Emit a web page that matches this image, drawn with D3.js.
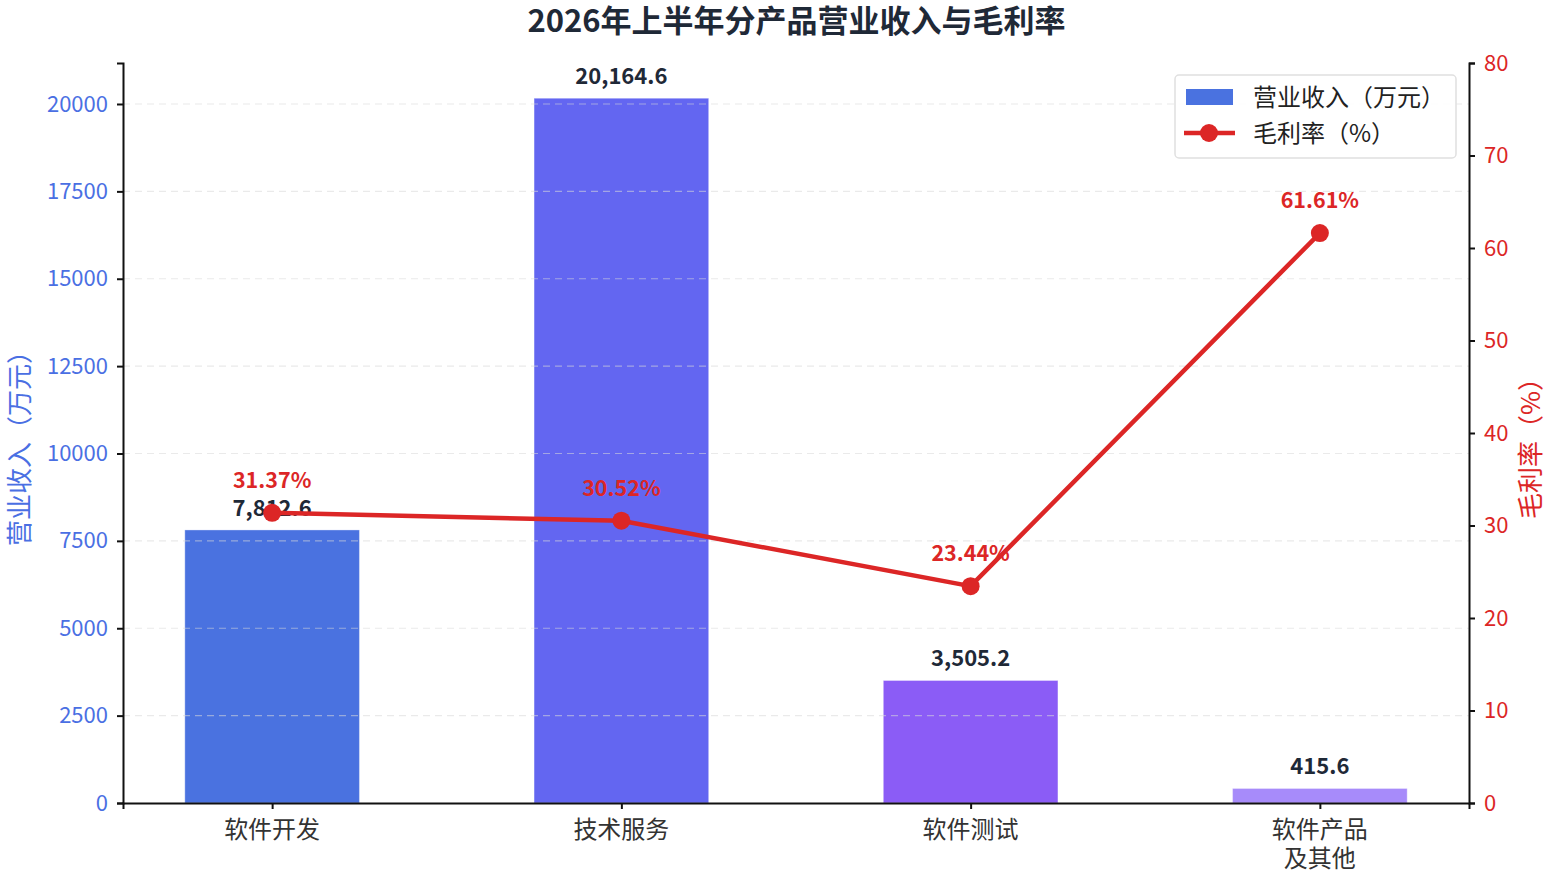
<!DOCTYPE html>
<html>
<head>
<meta charset="utf-8">
<script src="https://cdn.jsdelivr.net/npm/d3@7"></script>
<style>
  body { margin: 0; background: #fff; }
  text { font-family: "Noto Sans CJK SC", "Noto Sans", sans-serif; }
</style>
</head>
<body>
<script>
// data
const categories = ['软件开发', '技术服务', '软件测试', '软件产品\n及其他'];
const revenue = [7812.6, 20164.6, 3505.2, 415.6];       // 万元
const margin = [31.37, 30.52, 23.44, 61.61];             // %
const barColors = ['#4a72e0', '#6366f1', '#8b5cf6', '#a78bfa'];
const leftTicks = [0, 2500, 5000, 7500, 10000, 12500, 15000, 17500, 20000];
const rightTicks = [0, 10, 20, 30, 40, 50, 60, 70, 80];

const W = 1553, H = 875;
const m = {top: 63, right: 84, bottom: 72, left: 123};
const innerW = W - m.left - m.right;
const innerH = H - m.top - m.bottom;

const svg = d3.select('body').append('svg').attr('width', W).attr('height', H);

// scales
const x = d3.scaleLinear().domain([-0.427, categories.length - 1 + 0.427]).range([0, innerW]);
const yL = d3.scaleLinear().domain([0, d3.max(revenue) * 1.05]).range([innerH, 0]);
const yR = d3.scaleLinear().domain([0, 80]).range([innerH, 0]);
const barW = x(0.5) - x(0);

const g = svg.append('g').attr('transform', `translate(${m.left},${m.top})`);

// title
svg.append('text').text('2026年上半年分产品营业收入与毛利率')
  .attr('x', W / 2 + 20).attr('y', 32).attr('text-anchor', 'middle')
  .attr('font-size', 31).attr('font-weight', 'bold').attr('fill', '#1f2937');

// bars
g.selectAll('rect.bar').data(revenue).enter().append('rect')
  .attr('class', 'bar')
  .attr('x', (d, i) => x(i) - barW / 2)
  .attr('y', d => yL(d))
  .attr('width', barW)
  .attr('height', d => innerH - yL(d))
  .attr('fill', (d, i) => barColors[i])
  .attr('stroke', 'rgba(255,255,255,0.35)').attr('stroke-width', 1);

// grid on top of bars (dashed, light)
g.append('g').selectAll('line').data(leftTicks.slice(1)).enter().append('line')
  .attr('x1', 0).attr('x2', innerW)
  .attr('y1', d => yL(d)).attr('y2', d => yL(d))
  .attr('stroke', '#d8d8d8').attr('stroke-opacity', 0.55)
  .attr('stroke-dasharray', '7,5').attr('stroke-width', 1.2);

// bar value labels
g.selectAll('text.val').data(revenue).enter().append('text')
  .attr('x', (d, i) => x(i)).attr('y', d => yL(d) - 14)
  .attr('text-anchor', 'middle').attr('font-size', 22).attr('font-weight', 'bold')
  .attr('fill', '#1f2937')
  .text(d => d3.format(',.1f')(d));

// left axis
const axL = g.append('g').call(d3.axisLeft(yL).tickValues(leftTicks).tickFormat(d3.format('d')).tickSize(6).tickPadding(9));
axL.select('.domain').attr('stroke', '#111').attr('stroke-width', 2);
axL.selectAll('.tick line').attr('stroke', '#111').attr('stroke-width', 2);
axL.selectAll('.tick text').attr('fill', '#4a6fe3').attr('font-size', 22);

// right axis
const axR = g.append('g').attr('transform', `translate(${innerW},0)`)
  .call(d3.axisRight(yR).tickValues(rightTicks).tickSize(6).tickPadding(9));
axR.select('.domain').attr('stroke', '#111').attr('stroke-width', 2);
axR.selectAll('.tick line').attr('stroke', '#111').attr('stroke-width', 2);
axR.selectAll('.tick text').attr('fill', '#dc2626').attr('font-size', 22);

// bottom axis
const axB = g.append('g').attr('transform', `translate(0,${innerH})`)
  .call(d3.axisBottom(x).tickValues(d3.range(categories.length)).tickSize(6).tickFormat(''));
axB.select('.domain').attr('stroke', '#111').attr('stroke-width', 2);
axB.selectAll('.tick line').attr('stroke', '#111').attr('stroke-width', 2);
categories.forEach((c, i) => {
  const t = g.append('text').attr('x', x(i)).attr('y', innerH + 35)
    .attr('text-anchor', 'middle').attr('font-size', 24).attr('fill', '#333');
  c.split('\n').forEach((ln, k) => {
    t.append('tspan').attr('x', x(i)).attr('dy', k === 0 ? 0 : 29).text(ln);
  });
});

// axis titles
svg.append('text').text('营业收入（万元）')
  .attr('transform', `translate(29,${m.top + innerH / 2 + 9}) rotate(-90)`)
  .attr('text-anchor', 'middle').attr('font-size', 26).attr('fill', '#4a6fe3');
svg.append('text').text('毛利率（%）')
  .attr('transform', `translate(1540,${m.top + innerH / 2 + 9}) rotate(-90)`)
  .attr('text-anchor', 'middle').attr('font-size', 26).attr('fill', '#dc2626');

// margin line
const line = d3.line().x((d, i) => x(i)).y(d => yR(d));
g.append('path').datum(margin).attr('d', line)
  .attr('fill', 'none').attr('stroke', '#dc2626').attr('stroke-width', 4.5);
g.selectAll('circle.pt').data(margin).enter().append('circle')
  .attr('cx', (d, i) => x(i)).attr('cy', d => yR(d)).attr('r', 9)
  .attr('fill', '#dc2626');
g.selectAll('text.pct').data(margin).enter().append('text')
  .attr('x', (d, i) => x(i)).attr('y', d => yR(d) - 25)
  .attr('text-anchor', 'middle').attr('font-size', 21.5).attr('font-weight', 'bold')
  .attr('fill', '#dc2626')
  .text(d => d.toFixed(2) + '%');

// legend
const lg = svg.append('g').attr('transform', 'translate(1175,75)');
lg.append('rect').attr('width', 281).attr('height', 83).attr('rx', 4)
  .attr('fill', '#fff').attr('fill-opacity', 0.85).attr('stroke', '#e0e0e0').attr('stroke-width', 1.5);
lg.append('rect').attr('x', 11).attr('y', 14).attr('width', 47).attr('height', 16).attr('fill', barColors[0]);
lg.append('text').attr('x', 78).attr('y', 31).attr('font-size', 24).attr('fill', '#222').text('营业收入（万元）');
lg.append('line').attr('x1', 9).attr('x2', 60).attr('y1', 58).attr('y2', 58)
  .attr('stroke', '#dc2626').attr('stroke-width', 4.5);
lg.append('circle').attr('cx', 34).attr('cy', 58).attr('r', 9).attr('fill', '#dc2626');
lg.append('text').attr('x', 78).attr('y', 67).attr('font-size', 24).attr('fill', '#222').text('毛利率（%）');
</script>
</body>
</html>
